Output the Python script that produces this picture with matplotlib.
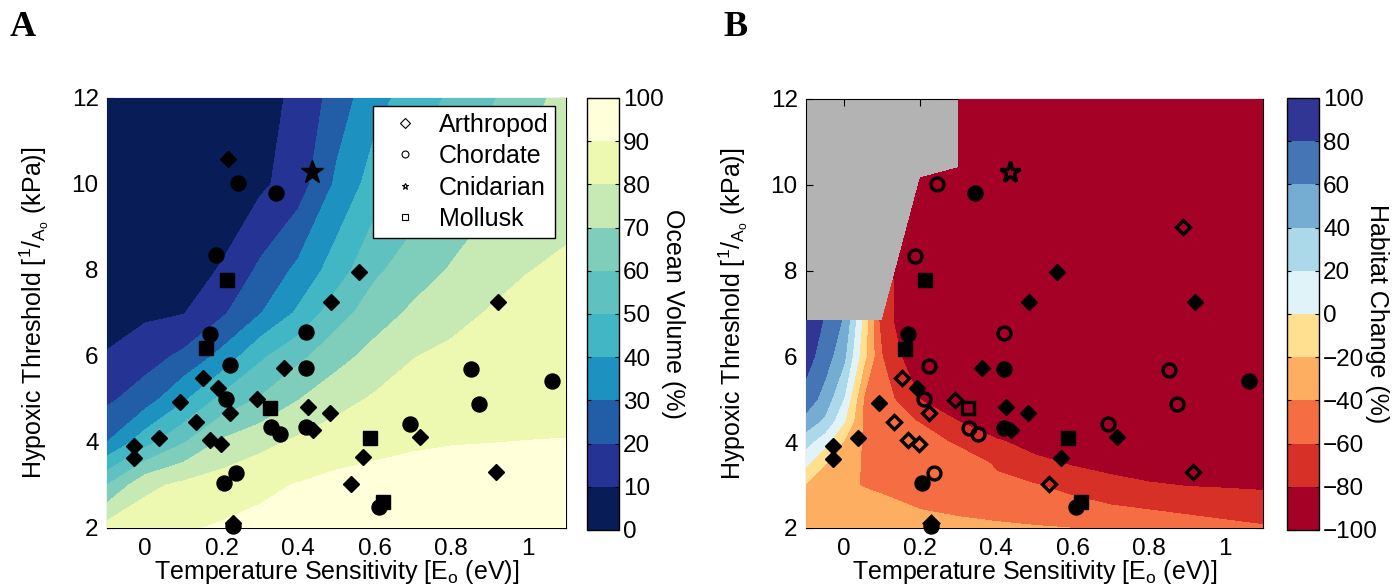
import numpy as np
import matplotlib.pyplot as plt
from matplotlib.lines import Line2D

plt.rcParams['font.family'] = ['Liberation Sans', 'DejaVu Sans']
plt.rcParams['mathtext.fontset'] = 'custom'
plt.rcParams['mathtext.rm'] = 'Liberation Sans'
plt.rcParams['mathtext.it'] = 'Liberation Sans:italic'
FS = 17.5

# species: temperature sensitivity Eo (eV) and hypoxic threshold 1/Ao (kPa)
# b = marker style in panel B: 'f' filled, 'o' open, '' not shown
arth_eo = [0.216, 0.560, 0.486, 0.921, 0.362, 0.151, 0.191, 0.291, 0.091, 0.222, 0.426, 0.483, 0.439,
           0.132, 0.037, 0.168, 0.197, -0.029, -0.029, 0.717, 0.570, 0.537, 0.917, 0.229, 0.889]
arth_ao = [10.57, 7.96, 7.26, 7.26, 5.73, 5.50, 5.26, 4.99, 4.92, 4.68, 4.81, 4.68, 4.28,
           4.47, 4.09, 4.05, 3.95, 3.91, 3.62, 4.12, 3.64, 3.02, 3.31, 2.11, 9.02]
arth_b = ['', 'f', 'f', 'f', 'f', 'o', 'f', 'o', 'f', 'o', 'f', 'f', 'f',
          'o', 'f', 'o', 'o', 'f', 'f', 'f', 'f', 'o', 'o', 'o', 'o']

chord_eo = [0.243, 0.343, 0.185, 0.169, 0.420, 0.222, 0.420, 0.852, 1.063, 0.211,
            0.873, 0.329, 0.352, 0.420, 0.693, 0.237, 0.205, 0.610, 0.229]
chord_ao = [10.03, 9.80, 8.35, 6.52, 6.55, 5.78, 5.71, 5.69, 5.42, 5.01,
            4.88, 4.34, 4.18, 4.34, 4.43, 3.29, 3.04, 2.48, 2.05]
chord_b = ['o', 'f', 'o', 'f', 'o', 'o', 'f', 'o', 'f', 'o',
           'o', 'o', 'o', 'f', 'o', 'o', 'f', 'f', 'f']

cnid_eo = [0.436]
cnid_ao = [10.29]
cnid_b = ['o']

moll_eo = [0.213, 0.159, 0.326, 0.587, 0.621]
moll_ao = [7.77, 6.18, 4.80, 4.09, 2.61]
moll_b = ['f', 'f', 'o', 'f', 'f']

# panel A: ocean volume (%) on a coarse Eo x 1/Ao grid
a_eo = [-0.1, 0.0, 0.1, 0.2, 0.3, 0.4, 0.5, 0.6, 0.7, 0.8, 0.9, 1.0, 1.1]
a_ao = [2, 3, 4, 5, 6, 7, 8, 10, 12]
a_vol = [
    [84, 86.5, 89, 91, 92.5, 93.5, 94.5, 95, 95.5, 96, 96, 96.5, 96.5],
    [60, 77.5, 82.2, 84.9, 88, 90.5, 92.5, 93, 93, 93, 93, 93, 93],
    [30, 46, 59.1, 71.5, 77, 81.8, 85.3, 87.6, 89.1, 89.7, 89.9, 90.1, 90.2],
    [18, 25.2, 38.3, 52.5, 60.7, 69.6, 76.5, 81.2, 84.3, 86, 86.8, 87.5, 88],
    [10.5, 15.6, 22.1, 32.8, 48, 57.4, 66.3, 73.4, 79.6, 82.2, 83.7, 85, 85.8],
    [7, 8.3, 9.6, 18.4, 29.4, 41.7, 55.8, 65.2, 71.8, 76.7, 80.7, 82.4, 83.5],
    [4, 5, 7, 10.5, 21.9, 32.3, 44.9, 58.1, 65.1, 70.8, 75.6, 79.8, 81.2],
    [1, 1.5, 3, 5.5, 8, 15, 31.8, 44.7, 53.7, 61.8, 67.3, 72.5, 77],
    [0, 0.5, 1, 3, 7.5, 11.5, 24.7, 36.3, 44.7, 51.4, 58.6, 66.2, 73.8],
]
a_levels = [0, 10, 20, 30, 40, 50, 60, 70, 80, 90, 100]
a_colors = ['#081d58', '#253494', '#225ea8', '#1d91c0', '#41b6c4',
            '#5fc1c0', '#7fcdbb', '#c7e9b4', '#edf8b1', '#ffffd9']

# panel B: habitat change (%), nan = no habitat
nan = np.nan
b_eo = [-0.1, -0.05, 0.0, 0.05, 0.1, 0.2, 0.3, 0.4, 0.5, 0.6, 0.7, 0.8, 0.9, 1.0, 1.1]
b_ao = [2, 2.5, 3, 3.5, 4, 4.5, 5, 6, 6.84, 10.16, 10.4, 12]
b_chg = [
    [-28, -29, -30, -31, -32, -34, -35.5, -37, -38.5, -40.1, -45, -49, -52, -55, -58],
    [-27, -29, -31, -33, -36, -41, -44, -47, -51, -55, -59, -62, -65, -68, -71],
    [-22, -30, -36.5, -40.9, -43, -46.5, -50, -55, -59.2, -65, -72.3, -77.5, -81, -82, -83],
    [3, -19.5, -32.6, -41.2, -42.1, -43.9, -45.8, -62.7, -72.7, -82, -88, -95, -100, -100, -100],
    [27.1, 6.3, -22.4, -41.8, -44, -48.4, -64, -76.2, -90, -100, -100, -100, -100, -100, -100],
    [52.8, 35.9, 1.9, -41, -47.7, -61.7, -80.6, -100, -100, -100, -100, -100, -100, -100, -100],
    [72, 51.2, 18.5, -40, -50.3, -80.5, -100, -100, -100, -100, -100, -100, -100, -100, -100],
    [88, 70, 44.3, -12.2, -60, -100, -100, -100, -100, -100, -100, -100, -100, -100, -100],
    [95, 78, 57.4, -4.4, -72, -100, -100, -100, -100, -100, -100, -100, -100, -100, -100],
    [nan, nan, nan, nan, nan, -100, -100, -100, -100, -100, -100, -100, -100, -100, -100],
    [nan, nan, nan, nan, nan, nan, -100, -100, -100, -100, -100, -100, -100, -100, -100],
    [nan, nan, nan, nan, nan, nan, -100, -100, -100, -100, -100, -100, -100, -100, -100],
]
b_levels = [-100, -80, -60, -40, -20, 0, 20, 40, 60, 80, 100]
b_colors = ['#a50026', '#d73027', '#f46d43', '#fdae61', '#fee090',
            '#e0f3f8', '#abd9e9', '#74add1', '#4575b4', '#313695']

xticks = [0, 0.2, 0.4, 0.6, 0.8, 1]
xticklabels = ['0', '0.2', '0.4', '0.6', '0.8', '1']
yticks = [2, 4, 6, 8, 10, 12]

groups = [
    (arth_eo, arth_ao, arth_b, 'D', 8.6),
    (chord_eo, chord_ao, chord_b, 'o', 10.8),
    (cnid_eo, cnid_ao, cnid_b, '*', 17),
    (moll_eo, moll_ao, moll_b, 's', 9.6),
]

fig = plt.figure(figsize=(13.93, 5.88), dpi=100)
W, H = 1393, 588


def box(l, r, t, b):
    return [l / W, 1 - b / H, (r - l) / W, (b - t) / H]


def style_axes(ax):
    ax.set_xlim(-0.1, 1.1)
    ax.set_ylim(2, 12)
    ax.set_xticks(xticks)
    ax.set_xticklabels(xticklabels)
    ax.set_yticks(yticks)
    ax.tick_params(direction='in', length=5, top=True, right=True, labelsize=FS)
    ax.tick_params(axis='x', pad=7)
    ax.tick_params(axis='y', pad=6)
    ax.set_xlabel(r'Temperature Sensitivity [E$_\mathrm{o}$ (eV)]', fontsize=18, labelpad=-1)
    ax.set_ylabel(r'Hypoxic Threshold [$^\mathrm{1}$/$_{\mathrm{A}_\mathrm{o}}$ (kPa)]',
                  fontsize=18, labelpad=15)


def style_cbar(cax, cs, ticks, label, xpos):
    cb = fig.colorbar(cs, cax=cax, ticks=ticks)
    cb.outline.set_linewidth(1)
    cax.tick_params(direction='in', length=3, left=True, right=True, labelsize=FS, pad=3)
    cax.text(xpos, 0.5, label, rotation=-90, ha='center', va='center',
             fontsize=18, transform=cax.transAxes)


# ---- panel A ----
axA = fig.add_axes(box(107, 566, 98, 528))
csA = axA.contourf(a_eo, a_ao, np.array(a_vol), levels=a_levels, colors=a_colors, zorder=3)
for xs, ys, bs, mk, ms in groups:
    axA.plot(xs, ys, ls='none', marker=mk, ms=ms, color='k', zorder=4, clip_on=False)
style_axes(axA)
handles = [Line2D([], [], ls='none', marker=mk, ms=5, mfc='none', mec='k', mew=0.8)
           for mk in ['D', 'o', '*', 's']]
leg = axA.legend(handles, ['Arthropod', 'Chordate', 'Cnidarian', 'Mollusk'],
                 loc='upper right', bbox_to_anchor=(0.977, 0.982), borderaxespad=0,
                 fontsize=18, frameon=True, fancybox=False, framealpha=1,
                 edgecolor='k', handlelength=2.0, handletextpad=0.35,
                 labelspacing=0.3, borderpad=0.28)
leg.get_frame().set_linewidth(1)
leg.set_zorder(6)

caxA = fig.add_axes(box(587, 619, 98, 530))
style_cbar(caxA, csA, a_levels, 'Ocean Volume (%)', 2.68)

# ---- panel B ----
axB = fig.add_axes(box(806, 1263, 99, 528))
axB.set_facecolor('#b3b3b3')
csB = axB.contourf(b_eo, b_ao, np.ma.masked_invalid(np.array(b_chg)),
                   levels=b_levels, colors=b_colors, zorder=3)
for xs, ys, bs, mk, ms in groups:
    fx = [x for x, b in zip(xs, bs) if b == 'f']
    fy = [y for y, b in zip(ys, bs) if b == 'f']
    ox = [x for x, b in zip(xs, bs) if b == 'o']
    oy = [y for y, b in zip(ys, bs) if b == 'o']
    axB.plot(fx, fy, ls='none', marker=mk, ms=ms, color='k', zorder=4, clip_on=False)
    axB.plot(ox, oy, ls='none', marker=mk, ms=ms - 1.5, mfc='none', mec='k', mew=2.4,
             zorder=4, clip_on=False)
style_axes(axB)

caxB = fig.add_axes(box(1287, 1319, 98, 530))
style_cbar(caxB, csB, b_levels, 'Habitat Change (%)', 2.82)

fig.text(10 / W, 1 - 36 / H, 'A', fontfamily='Liberation Serif', fontweight='bold',
         fontsize=26, va='baseline')
fig.text(723 / W, 1 - 36 / H, 'B', fontfamily='Liberation Serif', fontweight='bold',
         fontsize=26, va='baseline')

fig.savefig('out.png', dpi=100)
